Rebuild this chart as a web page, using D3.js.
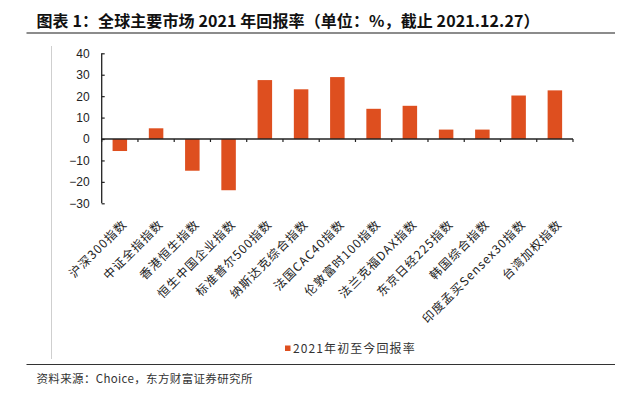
<!DOCTYPE html>
<html>
<head>
<meta charset="utf-8">
<script src="https://cdn.jsdelivr.net/npm/d3@7"></script>
<style>
  body { margin: 0; background: #fff; }
  svg { display: block; font-family: "Noto Sans CJK SC", "Noto Sans", sans-serif; }
</style>
</head>
<body>
<svg id="chart" width="639" height="394"></svg>
<script>
const categories = ['沪深300指数', '中证全指指数', '香港恒生指数', '恒生中国企业指数', '标准普尔500指数',
       '纳斯达克综合指数', '法国CAC40指数', '伦敦富时100指数', '法兰克福DAX指数', '东京日经225指数',
       '韩国综合指数', '印度孟买Sensex30指数', '台湾加权指数']

const returns = [-5.6, 5.0, -14.8, -23.9, 27.5, 23.2, 28.9, 14.1, 15.5, 4.4, 4.4, 20.3, 22.7]

const yTicks = [-30, -20, -10, 0, 10, 20, 30, 40]

const seriesName = '2021年初至今回报率'
const title = '图表 1：全球主要市场 2021 年回报率（单位：%，截止 2021.12.27）'
const source = '资料来源：Choice，东方财富证券研究所'

const barColor = '#DE4F1F';

function create_bar_chart(canvas_id) {
    var chart = d3.select('#' + canvas_id);
    var left = 101.7, right = 573, top = 53.3, bottom = 203.3;

    var xs = d3.scaleBand().domain(categories).range([left, right])
        .paddingInner(0.6).paddingOuter(0.3);
    var ys = d3.scaleLinear().domain([-30, 40]).range([bottom, top]);

    // title and frame lines
    chart.append('text')
        .attr('x', 36.5).attr('y', 27)
        .attr('font-size', 16).attr('font-weight', 'bold')
        .attr('fill', '#111')
        .attr('textLength', 503).attr('lengthAdjust', 'spacing')
        .text(title);
    chart.append('line')
        .attr('x1', 26.5).attr('x2', 615).attr('y1', 33).attr('y2', 33)
        .attr('stroke', '#666').attr('stroke-width', 1.5);
    chart.append('line')
        .attr('x1', 51.5).attr('x2', 51.5).attr('y1', 46).attr('y2', 359)
        .attr('stroke', '#cfcfcf').attr('stroke-width', 1);
    chart.append('line')
        .attr('x1', 26.5).attr('x2', 615).attr('y1', 364.5).attr('y2', 364.5)
        .attr('stroke', '#333').attr('stroke-width', 1);

    // bars
    chart.append('g').selectAll('rect').data(returns).enter().append('rect')
        .attr('x', function (d, i) { return xs(categories[i]); })
        .attr('width', xs.bandwidth())
        .attr('y', function (d) { return ys(Math.max(0, d)); })
        .attr('height', function (d) { return Math.abs(ys(d) - ys(0)); })
        .attr('fill', barColor);

    // y axis, ticks pointing inward
    var yAxis = chart.append('g')
        .attr('transform', 'translate(' + left + ',0)')
        .call(d3.axisRight(ys).tickValues(yTicks).tickSize(3).tickFormat(d3.format('d')));
    yAxis.select('.domain').attr('stroke', '#222').attr('stroke-width', 1.3)
        .attr('d', 'M0,' + top + 'V' + bottom);
    yAxis.selectAll('.tick line').attr('stroke', '#222').attr('stroke-width', 1.2);
    yAxis.selectAll('.tick text')
        .attr('x', -12).attr('text-anchor', 'end')
        .attr('font-family', 'Liberation Sans, Arial, sans-serif')
        .attr('font-size', 12).attr('fill', '#222');

    // x axis on zero line, ticks at band boundaries
    var zero = ys(0);
    chart.append('line')
        .attr('x1', left).attr('x2', right).attr('y1', zero).attr('y2', zero)
        .attr('stroke', '#222').attr('stroke-width', 1.3);
    var step = xs.step();
    chart.append('g').selectAll('line').data(d3.range(categories.length + 1)).enter().append('line')
        .attr('x1', function (k) { return left + k * step; })
        .attr('x2', function (k) { return left + k * step; })
        .attr('y1', zero).attr('y2', zero + 3)
        .attr('stroke', '#222').attr('stroke-width', 1.2);

    // category labels, rotated
    chart.append('g').selectAll('text').data(categories).enter().append('text')
        .attr('transform', function (d) {
            var cx = xs(d) + xs.bandwidth() / 2;
            return 'translate(' + (cx + 5) + ',222) rotate(-45)';
        })
        .attr('text-anchor', 'end')
        .attr('dy', '0.35em')
        .attr('font-size', 12)
        .attr('letter-spacing', 1.1)
        .attr('fill', '#222')
        .text(function (d) { return d; });

    // legend
    chart.append('rect')
        .attr('x', 285).attr('y', 345.5).attr('width', 5.5).attr('height', 5.5)
        .attr('fill', barColor);
    chart.append('text')
        .attr('x', 293).attr('y', 352.5)
        .attr('font-size', 12).attr('letter-spacing', 1.1).attr('fill', '#333')
        .text(seriesName);

    // source
    chart.append('text')
        .attr('x', 36.5).attr('y', 382.5)
        .attr('font-size', 11.5).attr('letter-spacing', 0.35).attr('fill', '#333')
        .text(source);
}

create_bar_chart('chart');
</script>
</body>
</html>
